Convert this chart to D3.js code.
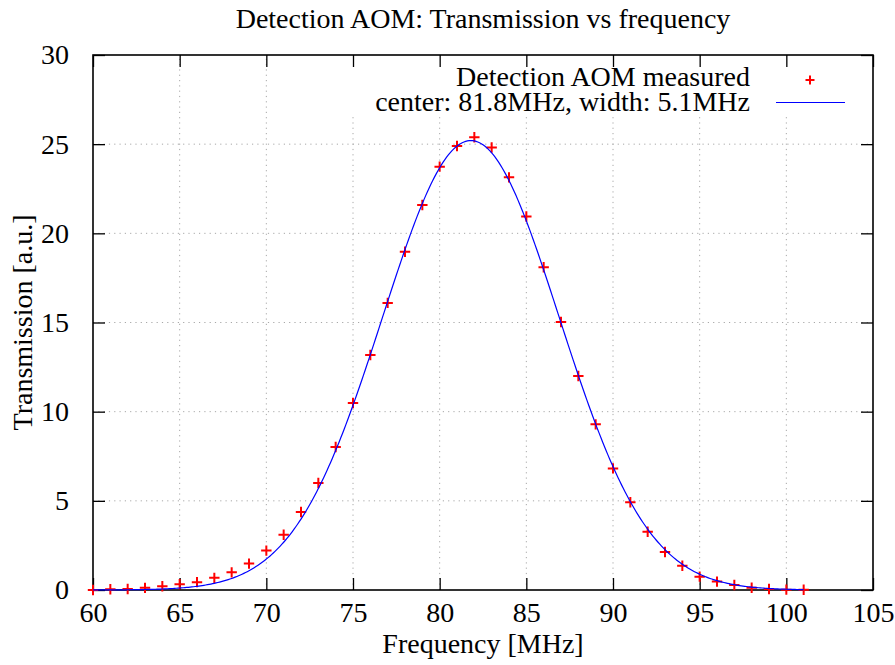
<!DOCTYPE html>
<html>
<head>
<meta charset="utf-8">
<script src="https://cdn.jsdelivr.net/npm/d3@7"></script>
<style>
  html, body { margin: 0; padding: 0; background: #fff; }
  svg { display: block; }
  text { font-family: "Liberation Serif", "Times New Roman", serif; fill: #000; }
</style>
</head>
<body>
<svg id="chart" width="895" height="665"></svg>
<script>
// Measured AOM transmission at each drive frequency
const frequencies = [60, 61, 62, 63, 64, 65, 66, 67, 68, 69, 70, 71, 72, 73, 74, 75, 76, 77, 78, 79, 80,
                     81, 82, 83, 84, 85, 86, 87, 88, 89, 90, 91, 92, 93, 94, 95, 96, 97, 98, 99, 100, 101];
const transmission = [0.00, 0.04, 0.06, 0.12, 0.21, 0.32, 0.44, 0.68, 0.99, 1.48, 2.21, 3.10, 4.37, 6.00,
                      8.02, 10.49, 13.18, 16.10, 18.97, 21.59, 23.74, 24.90, 25.39, 24.81, 23.14, 20.94,
                      18.10, 15.03, 12.00, 9.29, 6.82, 4.92, 3.27, 2.13, 1.36, 0.75, 0.47, 0.28, 0.13,
                      0.06, 0.02, 0.01];

// Gaussian fit parameters: center (MHz), width (MHz), amplitude
const fitCenter = [81.8];
const fitWidth = [5.1];
const fitAmplitude = [25.2];
const fitRange = [60, 101];

const xTicks = [60, 65, 70, 75, 80, 85, 90, 95, 100, 105];
const yTicks = [0, 5, 10, 15, 20, 25, 30];

const legendLabels = ["Detection AOM measured", "center: 81.8MHz, width: 5.1MHz"];
const titleText = "Detection AOM: Transmission vs frequency";
const xLabel = "Frequency [MHz]";
const yLabel = "Transmission [a.u.]";

const W = 895, H = 665;
const margin = { top: 55, right: 22, bottom: 75, left: 93 };
const FS = 28;

const svg = d3.select("#chart");
const x = d3.scaleLinear().domain([60, 105]).range([margin.left, W - margin.right]);
const y = d3.scaleLinear().domain([0, 30]).range([H - margin.bottom, margin.top]);

const x0 = x.range()[0], x1 = x.range()[1];
const y0 = y.range()[0], y1 = y.range()[1];

// dotted grid
const grid = svg.append("g").attr("stroke", "#a8a8a8").attr("stroke-width", 1)
  .attr("stroke-dasharray", "1.2,4.1");
grid.selectAll("line.gx").data(xTicks.slice(1, -1)).join("line")
  .attr("x1", d => x(d)).attr("x2", d => x(d)).attr("y1", y0).attr("y2", y1);
grid.selectAll("line.gy").data(yTicks.slice(1, -1)).join("line")
  .attr("y1", d => y(d)).attr("y2", d => y(d)).attr("x1", x0).attr("x2", x1);

// opaque key area
svg.append("rect").attr("x", 345).attr("y", y1).attr("width", x1 - 345).attr("height", 59)
  .attr("fill", "#fff");

// axes with inward ticks, mirrored on top and right
const tick = 12;
const bottomAxis = svg.append("g").attr("transform", `translate(0,${y0})`)
  .call(d3.axisBottom(x).tickValues(xTicks).tickSizeInner(-tick).tickSizeOuter(0).tickPadding(12));
const leftAxis = svg.append("g").attr("transform", `translate(${x0},0)`)
  .call(d3.axisLeft(y).tickValues(yTicks).tickSizeInner(-tick).tickSizeOuter(0).tickPadding(24));
const topAxis = svg.append("g").attr("transform", `translate(0,${y1})`)
  .call(d3.axisTop(x).tickValues(xTicks).tickSizeInner(-tick).tickSizeOuter(0).tickFormat(""));
const rightAxis = svg.append("g").attr("transform", `translate(${x1},0)`)
  .call(d3.axisRight(y).tickValues(yTicks).tickSizeInner(-tick).tickSizeOuter(0).tickFormat(""));

[bottomAxis, leftAxis, topAxis, rightAxis].forEach(g => {
  g.select(".domain").remove();
  g.selectAll(".tick line").attr("stroke", "#000").attr("stroke-width", 1.3);
  g.selectAll(".tick text").attr("font-family", "Liberation Serif, serif").attr("font-size", FS).attr("fill", "#000");
});

// border
svg.append("rect").attr("x", x0).attr("y", y1).attr("width", x1 - x0).attr("height", y0 - y1)
  .attr("fill", "none").attr("stroke", "#000").attr("stroke-width", 1.6);

// measured points
const plus = (cx, cy, r) => `M${cx - r},${cy}H${cx + r}M${cx},${cy - r}V${cy + r}`;
svg.append("g").selectAll("path").data(frequencies).join("path")
  .attr("d", (f, i) => plus(x(f), y(transmission[i]), 5.2))
  .attr("stroke", "#ff0000").attr("stroke-width", 2).attr("fill", "none");

// fitted gaussian
const gauss = f => fitAmplitude[0] * Math.exp(-((f - fitCenter[0]) ** 2) / (2 * fitWidth[0] ** 2));
const fitX = d3.range(fitRange[0], fitRange[1] + 0.001, 0.1);
svg.append("path")
  .datum(fitX)
  .attr("d", d3.line().x(f => x(f)).y(f => y(gauss(f))))
  .attr("fill", "none").attr("stroke", "#0000ff").attr("stroke-width", 1.2);

// key
const keyTextX = 750;
svg.append("text").attr("x", keyTextX).attr("y", 86).attr("text-anchor", "end")
  .attr("font-size", FS).text(legendLabels[0]);
svg.append("text").attr("x", keyTextX).attr("y", 111).attr("text-anchor", "end")
  .attr("font-size", FS).text(legendLabels[1]);
svg.append("path").attr("d", plus(810, 80, 4.5))
  .attr("stroke", "#ff0000").attr("stroke-width", 2).attr("fill", "none");
svg.append("line").attr("x1", 776).attr("x2", 845).attr("y1", 102.5).attr("y2", 102.5)
  .attr("stroke", "#0000ff").attr("stroke-width", 1.2);

// title and axis labels
svg.append("text").attr("x", (x0 + x1) / 2).attr("y", 28).attr("text-anchor", "middle")
  .attr("font-size", FS).text(titleText);
svg.append("text").attr("x", (x0 + x1) / 2).attr("y", 653).attr("text-anchor", "middle")
  .attr("font-size", FS).text(xLabel);
svg.append("text").attr("transform", `translate(32,${(y0 + y1) / 2}) rotate(-90)`)
  .attr("text-anchor", "middle").attr("font-size", FS).text(yLabel);
</script>
</body>
</html>
